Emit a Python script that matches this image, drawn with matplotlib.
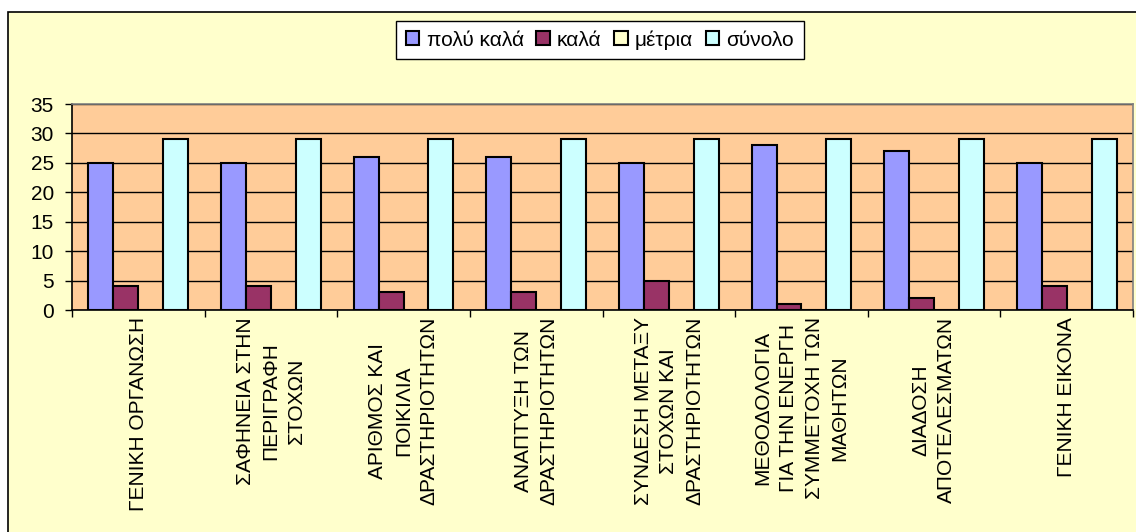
import matplotlib
matplotlib.use("Agg")
import matplotlib.pyplot as plt
import numpy as np
from matplotlib.patches import Rectangle

plt.rcParams['font.family'] = ['Liberation Sans', 'DejaVu Sans']

categories = [
    "ΓΕΝΙΚΗ ΟΡΓΑΝΩΣΗ",
    "ΣΑΦΗΝΕΙΑ ΣΤΗΝ\nΠΕΡΙΓΡΑΦΗ\nΣΤΟΧΩΝ",
    "ΑΡΙΘΜΟΣ ΚΑΙ\nΠΟΙΚΙΛΙΑ\nΔΡΑΣΤΗΡΙΟΤΗΤΩΝ",
    "ΑΝΑΠΤΥΞΗ ΤΩΝ\nΔΡΑΣΤΗΡΙΟΤΗΤΩΝ",
    "ΣΥΝΔΕΣΗ ΜΕΤΑΞΥ\nΣΤΟΧΩΝ ΚΑΙ\nΔΡΑΣΤΗΡΙΟΤΗΤΩΝ",
    "ΜΕΘΟΔΟΛΟΓΙΑ\nΓΙΑ ΤΗΝ ΕΝΕΡΓΗ\nΣΥΜΜΕΤΟΧΗ ΤΩΝ\nΜΑΘΗΤΩΝ",
    "ΔΙΑΔΟΣΗ\nΑΠΟΤΕΛΕΣΜΑΤΩΝ",
    "ΓΕΝΙΚΗ ΕΙΚΟΝΑ",
]
series_names = ["πολύ καλά", "καλά", "μέτρια", "σύνολο"]
poly_kala = [25, 25, 26, 26, 25, 28, 27, 25]
kala = [4, 4, 3, 3, 5, 1, 2, 4]
metria = [0, 0, 0, 0, 0, 0, 0, 0]
synolo = [29, 29, 29, 29, 29, 29, 29, 29]
y_ticks = [0, 5, 10, 15, 20, 25, 30, 35]

colors = ["#9999FF", "#993366", "#FFFFCC", "#CCFFFF"]
series = [poly_kala, kala, metria, synolo]

fig = plt.figure(figsize=(11.36, 5.32), dpi=100)
fig.patch.set_facecolor("white")
W, H = 1136, 532
bg = Rectangle((8 / W, -0.1), 1.2, 1 - 12 / H + 0.1, transform=fig.transFigure,
               facecolor="#FFFFCC", edgecolor="black", linewidth=1.2, zorder=-10)
fig.patches.append(bg)

ax = fig.add_axes([72 / W, 1 - 310 / H, (1133 - 72) / W, (310 - 104) / H])
ax.set_zorder(1)
ax.set_facecolor("#FFCC99")

n = len(categories)
x = np.arange(n)
w = 0.188
offsets = (np.arange(4) - 1.5) * w
for i, (vals, c, name) in enumerate(zip(series, colors, series_names)):
    ax.bar(x + offsets[i], vals, width=w, color=c, edgecolor="black",
           linewidth=1.5, label=name, zorder=3)

ax.set_xlim(-0.5, n - 0.5)
ax.set_ylim(0, 35)
ax.set_yticks(y_ticks)
ax.yaxis.grid(True, color="black", linewidth=1, zorder=1)
ax.set_axisbelow(True)
ax.tick_params(axis="y", labelsize=15, direction="out", length=5, width=1, pad=8)

ax.set_xticks(np.arange(n + 1) - 0.5)
ax.set_xticklabels([])
ax.tick_params(axis="x", direction="out", length=5, width=1)
ax.set_xticks(x, minor=True)
ax.set_xticklabels(categories, minor=True, rotation=90, fontsize=15,
                   ha="center", va="top", multialignment="center",
                   linespacing=1.45)
ax.tick_params(axis="x", which="minor", length=0, pad=5)

for s in ["top", "right"]:
    ax.spines[s].set_color("#808080")
    ax.spines[s].set_linewidth(1.2)
for s in ["left", "bottom"]:
    ax.spines[s].set_color("black")
    ax.spines[s].set_linewidth(1.2)

leg = fig.legend(loc="center", bbox_to_anchor=(600 / W, 1 - 40 / H), ncol=4,
                 fontsize=15, frameon=True, fancybox=False, edgecolor="black",
                 facecolor="white", framealpha=1, handlelength=0.65,
                 handleheight=0.65, handletextpad=0.35, columnspacing=0.6,
                 borderpad=0.45)
leg.get_frame().set_linewidth(1.0)

fig.savefig("out.png", dpi=100, facecolor=fig.get_facecolor())
